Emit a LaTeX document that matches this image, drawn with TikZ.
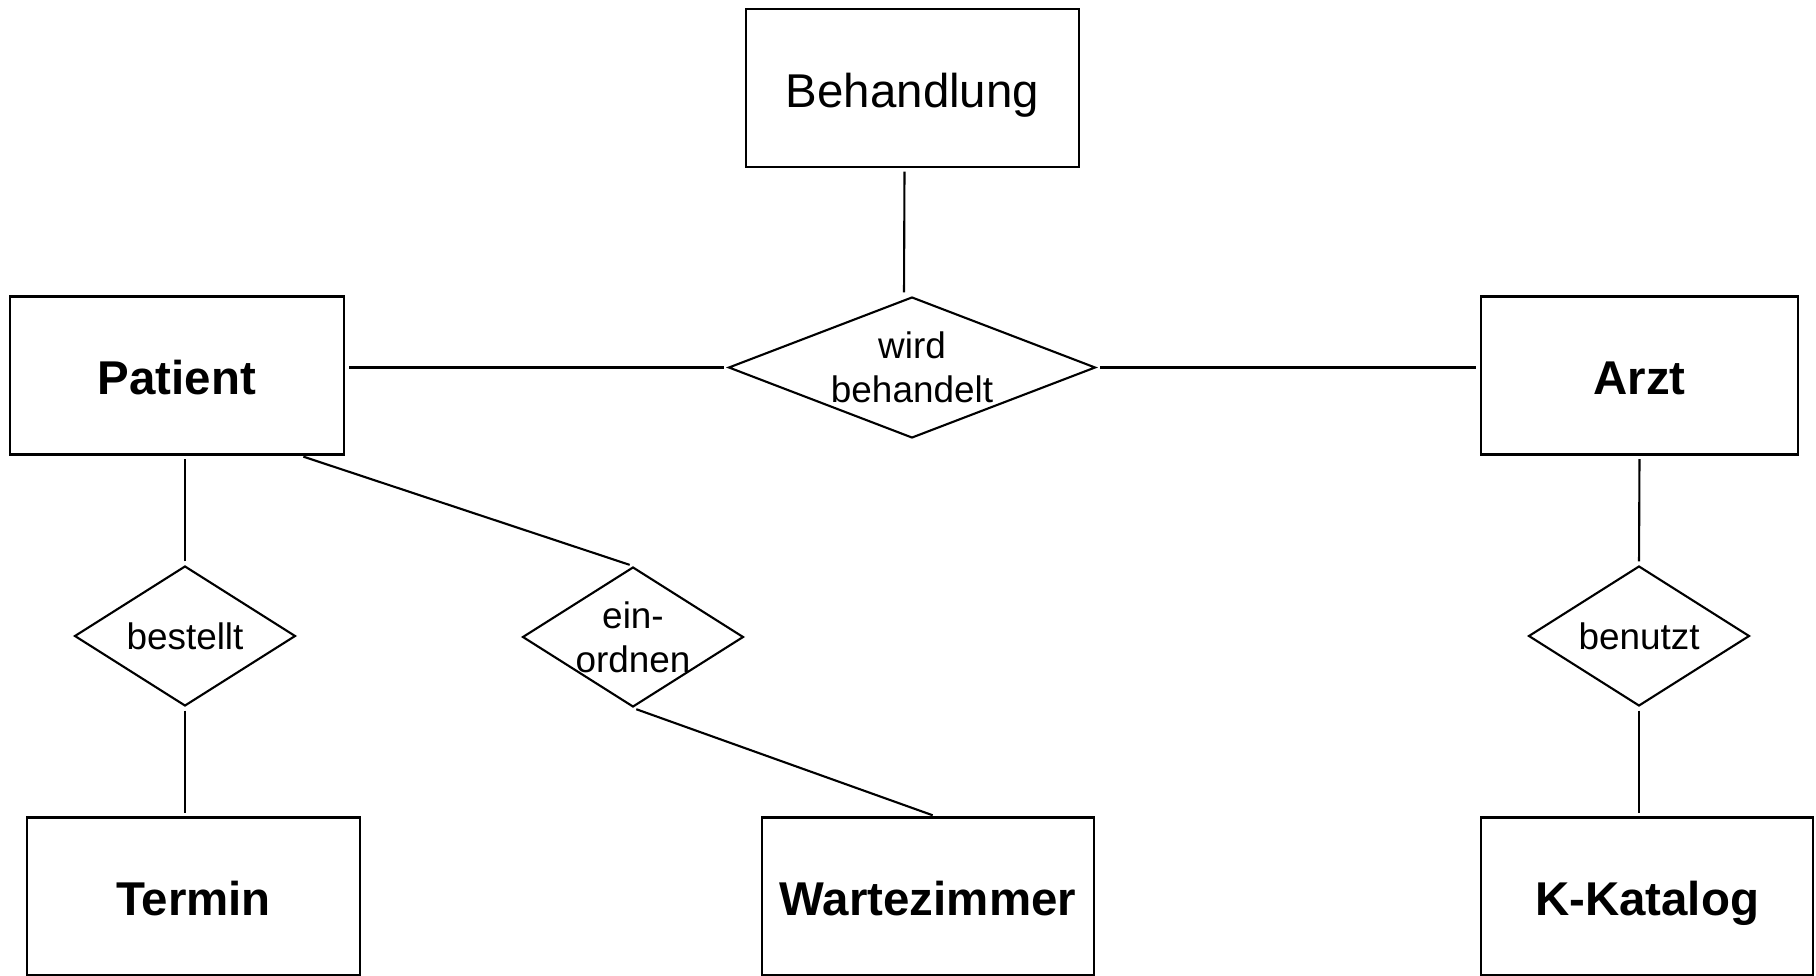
\documentclass[tikz,border=0pt]{standalone}
\usepackage{fontspec}
\setmainfont{Liberation Sans}
\usepackage{tikz}
\usetikzlibrary{shapes.geometric}

\begin{document}
\begin{tikzpicture}[x=0.02cm, y=-0.02cm, line width=1.2pt,
	entity/.style={draw, rectangle, minimum width=6.66cm, minimum height=3.16cm, text height=22pt, text depth=0pt, font=\fontsize{27}{32}\selectfont\bfseries},
	relation/.style={draw, diamond, inner sep=0pt, minimum width=4.42cm, minimum height=2.8cm},
	reltext/.style={align=center, inner sep=0pt, font=\fontsize{21}{25}\selectfont},
	link/.style={shorten <=2pt, shorten >=2pt}]
				\useasboundingbox (0,0) rectangle (1816,976);
				% entities
				\node (behandlung) at (912.5,88) [entity, font=\fontsize{27}{32}\selectfont] {Behandlung};
				\node (patient) at (177,375.5) [entity, minimum width=6.68cm] {Patient};
				\node (arzt) at (1639.5,375.5) [entity, minimum width=6.34cm] {Arzt};
				\node (termin) at (193.5,896.5) [entity] {Termin};
				\node (wartezimmer) at (928,896.5) [entity, minimum width=6.64cm] {Wartezimmer};
				\node (kkatalog) at (1647,896.5) [entity, minimum width=6.64cm] {K-Katalog};
				% relations
				\node (wird) at (912,367.5) [relation, minimum width=7.34cm, minimum height=2.82cm, label={[reltext]center:wird\\behandelt}] {};
				\node (bestellt) at (185,636) [relation, label={[reltext]center:bestellt}] {};
				\node (einordnen) at (633,637) [relation, label={[reltext]center:ein-\\ordnen}] {};
				\node (benutzt) at (1639,636) [relation, label={[reltext]center:benutzt}] {};
				
				\draw[link] ([xshift=-0.16cm]behandlung.south) -- ([xshift=-0.16cm]wird.north);
				\draw[link] (wird.west) -- (wird.west -| patient.east);
				\draw[link] (wird.east) -- (wird.east -| arzt.west);
				\draw[link] (bestellt.north) -- (bestellt.north |- patient.south);
				\draw[link] (bestellt.south) -- (bestellt.south |- termin.north);
				\draw[link] ([xshift=-0.9cm]patient.south east) -- (einordnen.north);
				\draw[link] (einordnen.south) -- ([xshift=0.16cm]wartezimmer.north);
				\draw[link] (arzt.south) -- (benutzt.north);
				\draw[link] (benutzt.south) -- (benutzt.south |- kkatalog.north);
			\end{tikzpicture}
\end{document}
